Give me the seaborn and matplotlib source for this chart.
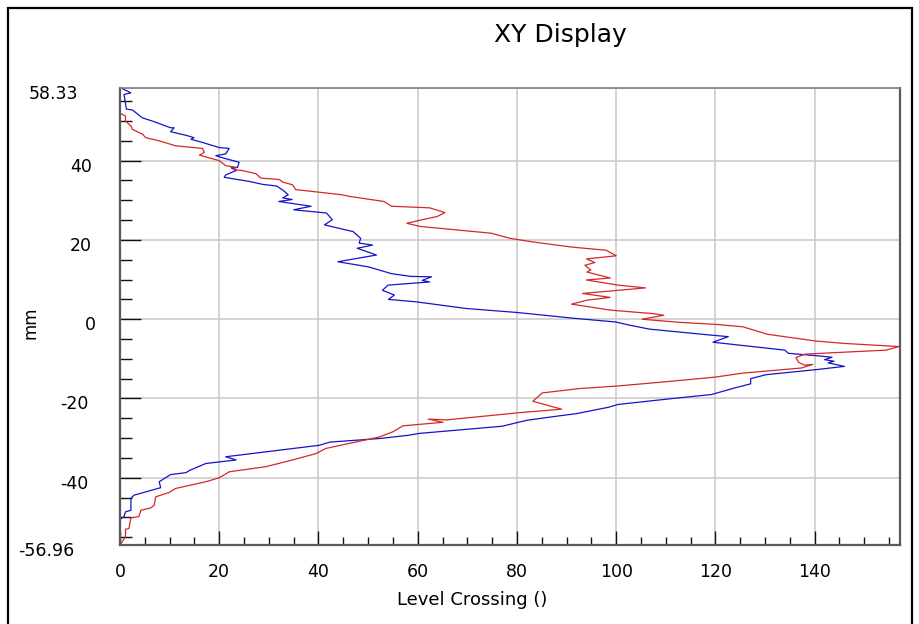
import matplotlib
matplotlib.use("Agg")
import matplotlib.pyplot as plt
import matplotlib.transforms as mtransforms
from matplotlib.patches import Rectangle
from matplotlib.ticker import FixedLocator, MultipleLocator
import pandas as pd
import seaborn as sns

# ---------------- data ----------------
blue_mm = [58.4, 57.1, 56.7, 53.0, 52.8, 50.8, 50.0, 48.3, 48.3, 47.3, 46.4, 45.8, 45.4, 44.6,
           43.3, 43.1, 41.7, 41.25, 40.6, 39.6, 38.3, 38.2, 37.5, 36.4, 35.8, 34.75, 34.0, 33.6,
           32.3, 31.4, 30.6, 30.2, 29.7, 28.5, 27.6, 26.8, 25.1, 23.8, 23.0, 22.1, 20.4, 19.2,
           18.7, 17.9, 16.2, 14.5, 13.2, 11.5, 10.8, 10.7, 9.8, 9.4, 8.6, 7.3, 6.1, 5.0, 4.4,
           2.7, 1.7, 0.2, -0.7, -1.5, -2.5, -4.0, -4.4, -5.8, -7.8, -8.6, -9.3, -9.6, -10.2,
           -10.6, -11.0, -11.9, -12.7, -14.0, -15.0, -16.3, -17.3, -19.0, -20.0, -21.5, -22.2,
           -23.8, -24.5, -25.5, -27.0, -28.8, -29.3, -30.1, -31.0, -31.8, -34.7, -35.5, -36.4,
           -38.1, -38.7, -39.2, -41.0, -42.5, -43.1, -44.4, -45.2, -48.2, -48.6, -49.8, -50.5]
blue_count = [0.1, 2.2, 0.8, 1.3, 2.5, 4.5, 6.5, 10.2, 10.9, 10.2, 13.3, 14.9, 14.3, 16.6,
              20.0, 22.0, 21.3, 19.3, 21.0, 24.0, 23.7, 22.4, 23.4, 21.3, 21.0, 26.1, 28.8, 31.6,
              33.1, 33.9, 32.8, 34.7, 32.0, 38.5, 35.0, 41.6, 42.8, 41.2, 43.9, 47.0, 48.5, 48.2,
              50.9, 47.8, 51.7, 43.9, 50.1, 54.7, 58.6, 62.8, 60.9, 62.4, 54.0, 52.9, 55.3, 54.1, 59.6,
              69.8, 80.0, 91.8, 99.9, 102.7, 106.7, 119.0, 122.6, 119.5, 134.0, 134.7, 141.2, 143.5, 142.0,
              143.9, 142.7, 146.0, 140.4, 130.2, 127.1, 127.1, 124.0, 119.2, 111.4, 100.4, 98.5,
              92.1, 87.8, 82.0, 77.0, 60.4, 58.0, 52.3, 42.3, 40.2, 21.3, 23.4, 17.3,
              14.1, 13.3, 10.2, 7.9, 8.2, 6.5, 2.8, 2.2, 2.2, 1.1, 0.8, 0.0]

red_mm = [52.0, 51.25, 50.0, 48.75, 47.9, 46.7, 45.8, 45.0, 43.75, 43.1, 42.1, 41.4, 40.0, 38.75,
          38.3, 37.75, 37.5, 36.7, 35.6, 35.25, 34.6, 33.9, 32.7, 31.4, 31.0, 29.7, 28.5, 28.1,
          26.9, 25.9, 25.1, 24.2, 23.4, 21.7, 20.4, 19.5, 18.2, 17.4, 16.0, 15.2, 14.3, 13.6,
          12.4, 11.9, 10.4, 9.9, 8.6, 7.9, 6.5, 5.5, 4.8, 3.8, 2.3, 1.4, 1.0, 0.0, -0.8, -1.3,
          -1.9, -3.8, -5.5, -6.1, -6.9, -7.8, -8.8, -9.7, -10.9, -11.6, -11.4, -12.3, -13.6,
          -14.6, -15.8, -16.9, -17.5, -18.6, -20.7, -22.7, -23.6, -25.4, -25.2, -26.0, -26.9,
          -28.4, -29.7, -32.6, -33.9, -35.5, -37.2, -38.5, -40.0, -41.0, -42.7, -43.7, -44.8,
          -46.9, -47.6, -48.2, -49.8, -50.1, -52.8, -53.0, -54.9, -56.96]
red_count = [0.0, 1.1, 1.1, 2.2, 2.5, 4.5, 5.2, 7.9, 11.2, 16.6, 17.0, 16.0, 20.0, 21.3,
             23.4, 23.0, 24.7, 27.4, 28.4, 32.1, 32.8, 34.8, 35.4, 44.7, 46.2, 53.2, 54.7, 62.4,
             65.5, 63.9, 60.9, 57.8, 60.5, 74.8, 78.6, 83.2, 91.0, 98.0, 100.0, 94.0, 95.7, 93.7,
             94.9, 94.1, 98.8, 94.0, 100.4, 105.9, 93.2, 98.8, 94.1, 91.0, 98.8, 107.5, 109.6, 105.2, 112.9, 120.0,
             125.5, 130.5, 140.2, 145.9, 157.0, 154.4, 138.1, 136.2, 136.8, 138.0, 139.6, 137.4, 125.5,
             120.0, 109.8, 99.8, 92.5, 85.1, 83.2, 89.0, 80.3, 65.8, 62.1, 65.1, 57.0,
             55.0, 52.3, 41.5, 39.5, 34.8, 29.4, 22.0, 20.0, 17.3, 11.2, 9.9, 7.2,
             6.9, 6.2, 4.2, 3.8, 2.2, 1.8, 1.1, 1.1, 0.0]

x_ticks = [0, 20, 40, 60, 80, 100, 120, 140]
x_tick_labels = ["0", "20", "40", "60", "80", "100", "120", "140"]
y_ticks = [58.33, 40, 20, 0, -20, -40, -56.96]
y_tick_labels = ["58.33", "40", "20", "0", "-20", "-40", "-56.96"]
series_names = ["blue", "red"]
series_colors = ["#1414c8", "#d42828"]
title_text = "XY Display"
x_label_text = "Level Crossing ()"
y_label_text = "mm"

# ---------------- style ----------------
sns.set_theme(style="white")
plt.rcParams["font.family"] = ["DejaVu Sans"]
plt.rcParams["text.color"] = "#000000"

fig = plt.figure(figsize=(9.2, 6.24), dpi=100)
ax = fig.add_axes([120 / 920, 1 - 545 / 624, 780 / 920, 457 / 624])

frames = []
for name, xs, ys in [(series_names[0], blue_count, blue_mm), (series_names[1], red_count, red_mm)]:
    d = pd.DataFrame({"count": xs, "mm": ys})
    d["series"] = name
    frames.append(d)
df = pd.concat(frames, ignore_index=True)

sns.lineplot(data=df, x="count", y="mm", hue="series",
             palette=dict(zip(series_names, series_colors)),
             sort=False, estimator=None, linewidth=0.9, legend=False, ax=ax)

ax.set_xlim(0, 157.2)
ax.set_ylim(-56.96, 58.33)

ax.xaxis.set_major_locator(FixedLocator(x_ticks))
ax.set_xticklabels(x_tick_labels)
ax.xaxis.set_minor_locator(MultipleLocator(5))
ax.yaxis.set_major_locator(FixedLocator(y_ticks))
ax.set_yticklabels(y_tick_labels)
ax.yaxis.set_minor_locator(MultipleLocator(5))

ax.tick_params(axis="x", which="major", direction="in", length=10, width=1.0,
               color="#111111", pad=13, labelsize=12.5, labelcolor="#000000")
ax.tick_params(axis="x", which="minor", direction="in", length=5.5, width=1.0, color="#111111")
ax.tick_params(axis="y", which="major", direction="in", length=15, width=1.0,
               color="#111111", pad=20, labelsize=12.5, labelcolor="#000000")
ax.tick_params(axis="y", which="minor", direction="in", length=8.5, width=1.0, color="#111111")
ax.tick_params(bottom=True, left=True, top=False, right=False, which="both")

# hide the tick marks that coincide with the axis limits
yt = ax.yaxis.get_major_ticks()
yt[0].tick1line.set_visible(False)
yt[-1].tick1line.set_visible(False)

# shift y tick labels slightly (end labels further left), and a bit downward
shifts = [-14, 0, 0, 4, -4, -4, -18]
for lab, dx in zip(ax.get_yticklabels(), shifts):
    off = mtransforms.ScaledTranslation(dx / 100, -4 / 100, fig.dpi_scale_trans)
    lab.set_transform(lab.get_transform() + off)

ax.grid(True, which="major", color="#c8c8c8", linewidth=1.1)
ax.set_axisbelow(True)
for side in ["left", "bottom", "right", "top"]:
    ax.spines[side].set_visible(True)
    ax.spines[side].set_color("#5a5a5a")
    ax.spines[side].set_linewidth(1.6)
ax.spines["top"].set_color("#808080")
ax.spines["top"].set_linewidth(1.2)

ax.set_xlabel(x_label_text, fontsize=13, color="#000000")
ax.xaxis.set_label_coords(0.451, -0.12)
ax.xaxis.label.set_va("center")
ax.set_ylabel(y_label_text, fontsize=12, color="#000000")
ax.yaxis.label.set_va("center")
ax.yaxis.set_label_coords(-0.115, 0.486)

ax.text(0.564, 1.116, title_text, transform=ax.transAxes, ha="center", va="center", fontsize=18)

# outer black frame
fig.patches.append(Rectangle((8 / 920, -0.05), (912 - 8) / 920, 1.05 - 8 / 624,
                             transform=fig.transFigure, fill=False, edgecolor="black",
                             linewidth=1.6, zorder=10))

fig.savefig("out.png", dpi=100, facecolor="white")
